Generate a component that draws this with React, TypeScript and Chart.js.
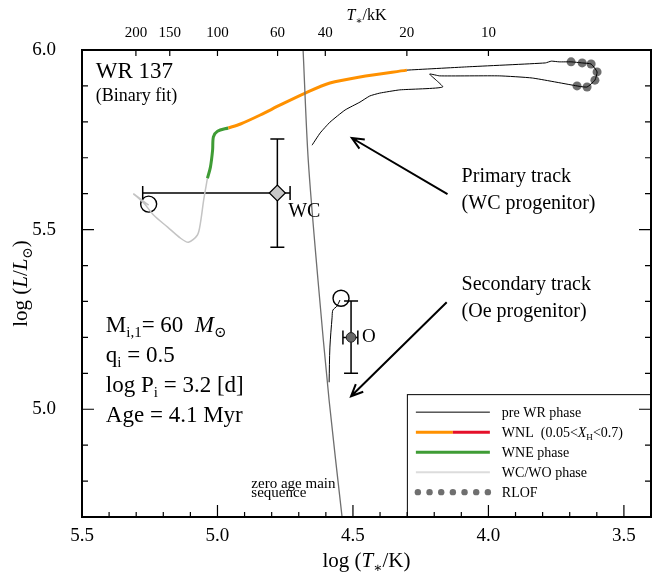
import React, { useEffect, useRef } from 'react';
import { Chart, registerables } from 'chart.js';
Chart.register(...registerables);

const FONT = '"Liberation Serif", "Times New Roman", "DejaVu Serif", serif';

// ---- axis ticks ----
const xMajorTicks = [5.5, 5.0, 4.5, 4.0, 3.5];
const yMajorTicks = [5.0, 5.5, 6.0];
const topTicksK = [200, 150, 100, 60, 40, 20, 10];

// ---- zero age main sequence ----
const zamsT = [4.684, 4.665, 4.629, 4.588, 4.54];
const zamsL = [6.0, 5.694, 5.359, 5.025, 4.699];

// ---- primary track, pre-WR phase (incl. RLOF loop) ----
const preWrT = [4.651, 4.621, 4.585, 4.529, 4.474, 4.438, 4.401, 4.327, 4.169, 4.217, 4.18, 3.96, 3.838, 3.673, 3.636, 3.607, 3.599, 3.621, 3.654, 3.695, 3.739, 3.768, 3.79, 4.081, 4.301];
const preWrL = [5.735, 5.769, 5.799, 5.833, 5.855, 5.872, 5.88, 5.889, 5.897, 5.933, 5.928, 5.928, 5.922, 5.9, 5.897, 5.916, 5.939, 5.961, 5.964, 5.967, 5.967, 5.969, 5.964, 5.953, 5.944];

// ---- RLOF points ----
const rlofT = [3.673, 3.636, 3.607, 3.599, 3.621, 3.654, 3.695];
const rlofL = [5.9, 5.897, 5.916, 5.939, 5.961, 5.964, 5.967];

// ---- WNL phase ----
const wnlT = [4.301, 4.474, 4.585, 4.676, 4.768, 4.842, 4.915, 4.96];
const wnlL = [5.944, 5.925, 5.908, 5.88, 5.847, 5.819, 5.794, 5.783];

// ---- WNE phase ----
const wneT = [4.96, 5.0, 5.015, 5.018, 5.026, 5.037];
const wneL = [5.783, 5.774, 5.758, 5.721, 5.674, 5.643];

// ---- WC/WO phase ----
const wcwoT = [5.037, 5.051, 5.063, 5.074, 5.107, 5.136, 5.184, 5.235, 5.272, 5.309, 5.254];
const wcwoL = [5.643, 5.582, 5.518, 5.485, 5.465, 5.476, 5.507, 5.54, 5.574, 5.599, 5.568];

// ---- secondary track ----
const secT = [4.588, 4.585, 4.577, 4.574, 4.559, 4.548];
const secL = [5.075, 5.173, 5.256, 5.276, 5.287, 5.304];

// ---- current-age model positions (open circles) ----
const nowT = [5.254, 4.544];
const nowL = [5.571, 5.309];

// ---- observed stars: [logT, logL, Tlow(hot side), Thigh(cool side), Llow, Lhigh] ----
const wcStar = [4.779, 5.602, 5.276, 4.732, 5.451, 5.752];
const oStar = [4.507, 5.2, 4.537, 4.482, 5.1, 5.301];

// ---- arrows [tailT, tailL, tipT, tipL] ----
const arrowPrimary = [4.151, 5.599, 4.504, 5.755];
const arrowSecondary = [4.154, 5.298, 4.507, 5.036];

type Seg = { t: string; i?: boolean; sub?: boolean };

const pts = (xs: number[], ys: number[]) => xs.map((x, k) => ({ x, y: ys[k] }));

function fontOf(size: number, italic?: boolean) {
  return `${italic ? 'italic ' : ''}${size}px ${FONT}`;
}

function richWidth(ctx: CanvasRenderingContext2D, segs: Seg[], size: number) {
  let w = 0;
  for (const s of segs) {
    ctx.font = fontOf(s.sub ? size * 0.65 : size, s.i);
    w += ctx.measureText(s.t).width;
  }
  return w;
}

function drawRich(ctx: CanvasRenderingContext2D, x: number, y: number, segs: Seg[], size: number, align: 'left' | 'center' = 'left') {
  ctx.save();
  ctx.textBaseline = 'alphabetic';
  ctx.textAlign = 'left';
  ctx.fillStyle = '#000';
  let cx = x;
  if (align === 'center') cx = x - richWidth(ctx, segs, size) / 2;
  for (const s of segs) {
    const sz = s.sub ? size * 0.65 : size;
    ctx.font = fontOf(sz, s.i);
    ctx.fillText(s.t, cx, y + (s.sub ? size * 0.22 : 0));
    cx += ctx.measureText(s.t).width;
  }
  ctx.restore();
}

function arrow(ctx: CanvasRenderingContext2D, x1: number, y1: number, x2: number, y2: number) {
  const a = Math.atan2(y2 - y1, x2 - x1);
  const L = 13;
  const sp = 0.42;
  ctx.beginPath();
  ctx.moveTo(x1, y1);
  ctx.lineTo(x2, y2);
  ctx.moveTo(x2 - L * Math.cos(a - sp), y2 - L * Math.sin(a - sp));
  ctx.lineTo(x2, y2);
  ctx.lineTo(x2 - L * Math.cos(a + sp), y2 - L * Math.sin(a + sp));
  ctx.stroke();
}

const hrPlugin = {
  id: 'hrPlugin',
  beforeDatasetsDraw(chart: any) {
    const { ctx, scales } = chart;
    const X = scales.x, Y = scales.y;
    ctx.save();
    ctx.strokeStyle = '#000';
    ctx.lineWidth = 1.5;
    for (const s of [wcStar, oStar]) {
      const px = X.getPixelForValue(s[0]);
      const py = Y.getPixelForValue(s[1]);
      const xa = X.getPixelForValue(s[2]);
      const xb = X.getPixelForValue(s[3]);
      const ya = Y.getPixelForValue(s[4]);
      const yb = Y.getPixelForValue(s[5]);
      const c = 7;
      ctx.beginPath();
      ctx.moveTo(xa, py); ctx.lineTo(xb, py);
      ctx.moveTo(xa, py - c); ctx.lineTo(xa, py + c);
      ctx.moveTo(xb, py - c); ctx.lineTo(xb, py + c);
      ctx.moveTo(px, ya); ctx.lineTo(px, yb);
      ctx.moveTo(px - c, ya); ctx.lineTo(px + c, ya);
      ctx.moveTo(px - c, yb); ctx.lineTo(px + c, yb);
      ctx.stroke();
    }
    ctx.restore();
  },
  afterDatasetsDraw(chart: any) {
    const { ctx, scales, chartArea } = chart;
    const X = scales.x, Y = scales.y;
    const px = (v: number) => X.getPixelForValue(v);
    const py = (v: number) => Y.getPixelForValue(v);

    // arrows
    ctx.save();
    ctx.strokeStyle = '#000';
    ctx.lineWidth = 2;
    for (const a of [arrowPrimary, arrowSecondary]) arrow(ctx, px(a[0]), py(a[1]), px(a[2]), py(a[3]));
    ctx.restore();

    // texts
    drawRich(ctx, px(5.449), py(5.922), [{ t: 'WR 137' }], 23);
    drawRich(ctx, px(5.449), py(5.858), [{ t: '(Binary fit)' }], 18);
    drawRich(ctx, px(5.412), py(5.215), [{ t: 'M' }, { t: 'i,1', sub: true }, { t: '= 60  ' }, { t: 'M', i: true }, { t: '\u2299', sub: true }], 23);
    drawRich(ctx, px(5.412), py(5.131), [{ t: 'q' }, { t: 'i', sub: true }, { t: ' = 0.5' }], 23);
    drawRich(ctx, px(5.412), py(5.047), [{ t: 'log P' }, { t: 'i', sub: true }, { t: ' = 3.2 [d]' }], 23);
    drawRich(ctx, px(5.412), py(4.964), [{ t: 'Age = 4.1 Myr' }], 23);
    drawRich(ctx, px(4.739), py(5.535), [{ t: 'WC' }], 20);
    drawRich(ctx, px(4.467), py(5.187), [{ t: 'O' }], 19);
    drawRich(ctx, px(4.099), py(5.632), [{ t: 'Primary track' }], 20);
    drawRich(ctx, px(4.099), py(5.557), [{ t: '(WC progenitor)' }], 20);
    drawRich(ctx, px(4.099), py(5.331), [{ t: 'Secondary track' }], 20);
    drawRich(ctx, px(4.099), py(5.256), [{ t: '(Oe progenitor)' }], 20);
    drawRich(ctx, px(4.875), py(4.78), [{ t: 'zero age main' }], 15);
    drawRich(ctx, px(4.875), py(4.755), [{ t: 'sequence' }], 15);

    // legend box
    const bl = px(4.301), bt = py(5.042);
    const br = chartArea.right, bb = chartArea.bottom;
    ctx.save();
    ctx.fillStyle = '#fff';
    ctx.fillRect(bl, bt, br - bl, bb - bt);
    ctx.strokeStyle = '#000';
    ctx.lineWidth = 1;
    ctx.strokeRect(bl + 0.5, bt + 0.5, br - bl, bb - bt);
    const rows = [
      { segs: [{ t: 'pre WR phase' }] as Seg[], kind: 'pre' },
      { segs: [{ t: 'WNL  (0.05<' }, { t: 'X', i: true }, { t: 'H', sub: true }, { t: '<0.7)' }] as Seg[], kind: 'wnl' },
      { segs: [{ t: 'WNE phase' }] as Seg[], kind: 'wne' },
      { segs: [{ t: 'WC/WO phase' }] as Seg[], kind: 'wc' },
      { segs: [{ t: 'RLOF' }] as Seg[], kind: 'rlof' },
    ];
    const sx0 = bl + 9, sx1 = bl + 83;
    rows.forEach((r, k) => {
      const cy = bt + 18 + k * 20;
      ctx.lineCap = 'butt';
      if (r.kind === 'pre') {
        ctx.strokeStyle = '#000'; ctx.lineWidth = 1;
        ctx.beginPath(); ctx.moveTo(sx0, cy); ctx.lineTo(sx1, cy); ctx.stroke();
      } else if (r.kind === 'wnl') {
        const mid = (sx0 + sx1) / 2;
        ctx.lineWidth = 3;
        ctx.strokeStyle = '#ff9100';
        ctx.beginPath(); ctx.moveTo(sx0, cy); ctx.lineTo(mid, cy); ctx.stroke();
        ctx.strokeStyle = '#e5102a';
        ctx.beginPath(); ctx.moveTo(mid, cy); ctx.lineTo(sx1, cy); ctx.stroke();
      } else if (r.kind === 'wne') {
        ctx.strokeStyle = '#3f9c35'; ctx.lineWidth = 3;
        ctx.beginPath(); ctx.moveTo(sx0, cy); ctx.lineTo(sx1, cy); ctx.stroke();
      } else if (r.kind === 'wc') {
        ctx.strokeStyle = '#dcdcdc'; ctx.lineWidth = 2;
        ctx.beginPath(); ctx.moveTo(sx0, cy); ctx.lineTo(sx1, cy); ctx.stroke();
      } else {
        ctx.fillStyle = '#6f6f6f';
        for (let d = 0; d < 7; d++) {
          ctx.beginPath();
          ctx.arc(sx0 + 2 + d * ((sx1 - sx0 - 4) / 6), cy, 3.2, 0, Math.PI * 2);
          ctx.fill();
        }
      }
      drawRich(ctx, bl + 95, cy + 4.5, r.segs, 14);
    });
    ctx.restore();
  },
  afterDraw(chart: any) {
    const { ctx, scales, chartArea } = chart;
    const { left, right, top, bottom } = chartArea;
    const X = scales.x, Y = scales.y;
    ctx.save();
    ctx.strokeStyle = '#000';
    ctx.lineWidth = 1.2;
    ctx.beginPath();
    for (let v = 34; v <= 55; v++) {
      const p = X.getPixelForValue(v / 10);
      const len = v % 5 === 0 ? 12 : 5;
      ctx.moveTo(p, bottom); ctx.lineTo(p, bottom - len);
    }
    for (const k of topTicksK) {
      const p = X.getPixelForValue(Math.log10(k * 1000));
      ctx.moveTo(p, top); ctx.lineTo(p, top + 6);
    }
    for (let v = 47; v <= 60; v++) {
      const p = Y.getPixelForValue(v / 10);
      const len = v % 5 === 0 ? 12 : 6;
      ctx.moveTo(left, p); ctx.lineTo(left + len, p);
      ctx.moveTo(right, p); ctx.lineTo(right - len, p);
    }
    ctx.stroke();
    ctx.lineWidth = 2;
    ctx.strokeRect(left, top, right - left, bottom - top);
    ctx.restore();

    // axis titles
    const cx = (left + right) / 2;
    drawRich(ctx, cx, 20, [{ t: 'T', i: true }, { t: '\u2217', sub: true }, { t: '/kK' }], 16, 'center');
    drawRich(ctx, cx, 567, [{ t: 'log (' }, { t: 'T', i: true }, { t: '\u2217', sub: true }, { t: '/K)' }], 21, 'center');
    ctx.save();
    ctx.translate(27, (top + bottom) / 2);
    ctx.rotate(-Math.PI / 2);
    drawRich(ctx, 0, 0, [{ t: 'log (' }, { t: 'L', i: true }, { t: '/' }, { t: 'L', i: true }, { t: '\u2299', sub: true }, { t: ')' }], 21, 'center');
    ctx.restore();
  },
};

export default function App() {
  const ref = useRef<HTMLCanvasElement | null>(null);
  useEffect(() => {
    if (!ref.current) return;
    const lineDs = (label: string, xs: number[], ys: number[], color: string, width: number, tension = 0) => ({
      label,
      data: pts(xs, ys),
      showLine: true,
      borderColor: color,
      borderWidth: width,
      pointRadius: 0,
      tension,
      fill: false,
    });
    const chart = new Chart(ref.current, {
      type: 'scatter',
      data: {
        datasets: [
          lineDs('ZAMS', zamsT, zamsL, '#6e6e6e', 1.3, 0.3),
          lineDs('pre WR', preWrT, preWrL, '#000', 1, 0.15),
          lineDs('WNL', wnlT, wnlL, '#ff9100', 3, 0.3),
          lineDs('WNE', wneT, wneL, '#3f9c35', 3, 0.3),
          lineDs('WC/WO', wcwoT, wcwoL, '#c4c4c4', 1.5, 0.3),
          lineDs('secondary', secT, secL, '#000', 1, 0.3),
          {
            label: 'RLOF', data: pts(rlofT, rlofL), showLine: false,
            pointRadius: 4.5, pointBackgroundColor: '#6f6f6f', pointBorderWidth: 0, pointBorderColor: '#6f6f6f',
          },
          {
            label: 'now', data: pts(nowT, nowL), showLine: false,
            pointRadius: 8, pointBackgroundColor: 'rgba(0,0,0,0)', pointBorderColor: '#000', pointBorderWidth: 1.4,
          },
          {
            label: 'WC', data: [{ x: wcStar[0], y: wcStar[1] }], showLine: false, pointStyle: 'rectRot',
            pointRadius: 8, pointBackgroundColor: '#c8c8c8', pointBorderColor: '#000', pointBorderWidth: 1.2,
          },
          {
            label: 'O', data: [{ x: oStar[0], y: oStar[1] }], showLine: false,
            pointRadius: 4.8, pointBackgroundColor: '#666', pointBorderColor: '#222', pointBorderWidth: 1,
          },
        ] as any,
      },
      options: {
        responsive: false,
        animation: false,
        devicePixelRatio: 1,
        layout: { padding: 0 },
        plugins: { legend: { display: false }, tooltip: { enabled: false } },
        scales: {
          x: {
            type: 'linear', position: 'bottom', min: 3.4, max: 5.5, reverse: true,
            grid: { display: false, drawTicks: false }, border: { display: false },
            ticks: { color: '#000', font: { family: FONT, size: 19 }, padding: 8, autoSkip: false, maxRotation: 0,
              callback: (v: any) => Number(v).toFixed(1) },
            afterBuildTicks: (s: any) => { s.ticks = xMajorTicks.map((v) => ({ value: v })); },
            afterFit: (s: any) => { s.height = 59; },
          },
          x2: {
            type: 'linear', position: 'top', min: 3.4, max: 5.5, reverse: true,
            grid: { display: false, drawTicks: false }, border: { display: false },
            ticks: { color: '#000', font: { family: FONT, size: 15 }, padding: 8, autoSkip: false, maxRotation: 0,
              callback: (v: any) => String(Math.round(Math.pow(10, Number(v)) / 1000)) },
            afterBuildTicks: (s: any) => { s.ticks = topTicksK.map((k) => ({ value: Math.log10(k * 1000) })); },
            afterFit: (s: any) => { s.height = 50; },
          },
          y: {
            type: 'linear', position: 'left', min: 4.7, max: 6.0,
            grid: { display: false, drawTicks: false }, border: { display: false },
            ticks: { color: '#000', font: { family: FONT, size: 19 }, padding: 26, autoSkip: false,
              callback: (v: any) => Number(v).toFixed(1) },
            afterBuildTicks: (s: any) => { s.ticks = yMajorTicks.map((v) => ({ value: v })); },
            afterFit: (s: any) => { s.width = 82; },
          },
          y2: {
            type: 'linear', position: 'right', min: 4.7, max: 6.0,
            grid: { display: false, drawTicks: false }, border: { display: false },
            ticks: { display: false },
            afterFit: (s: any) => { s.width = 13; },
          },
        },
      } as any,
      plugins: [hrPlugin],
    });
    return () => chart.destroy();
  }, []);
  return (
    <div style={{ position: 'absolute', left: 0, top: 0, width: 664, height: 576, background: '#fff' }}>
      <canvas ref={ref} width={664} height={576} style={{ display: 'block', width: 664, height: 576 }} />
    </div>
  );
}
